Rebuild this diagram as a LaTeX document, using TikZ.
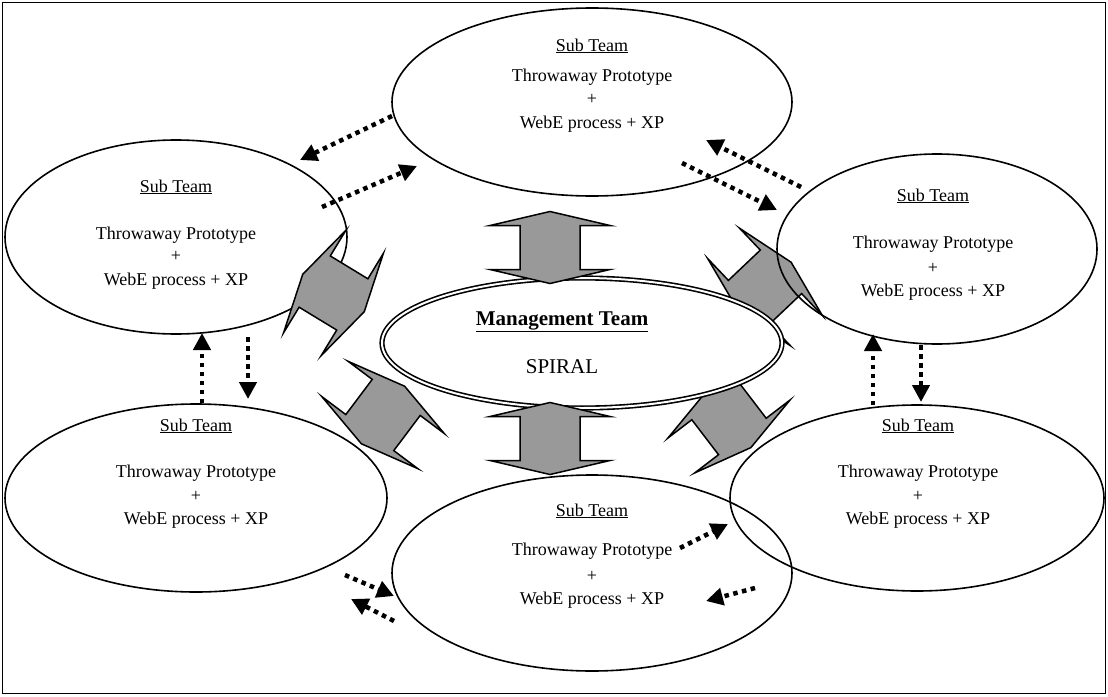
\documentclass[tikz,border=0pt]{standalone}
\usepackage{fontspec}
\setmainfont{Liberation Serif}
\usetikzlibrary{arrows.meta,shapes.geometric}
\definecolor{arrowgray}{RGB}{153,153,153}
\begin{document}
\begin{tikzpicture}[x=1pt,y=-1pt,
  team/.style={draw,ellipse,line width=1.6pt,inner sep=0pt},
  mgmt/.style={draw,ellipse,double,line width=1.6pt,double distance=2pt,fill=white,inner sep=0pt},
  blockarrow/.style={draw,fill=arrowgray,line width=1.5pt,line join=miter},
  dotarrow/.style={line width=4.5pt,dash pattern=on 4.5pt off 4.5pt,-{Triangle[length=17pt,width=17pt]}},
  txt/.style={anchor=base,inner sep=0pt,font=\fontsize{18}{21}\selectfont},
  mtxt/.style={anchor=base,inner sep=0pt,font=\fontsize{21}{24}\selectfont}
]
\useasboundingbox (0,0) rectangle (1108,696);
\draw[line width=1.6pt] (2.5,2.5) rectangle (1105.5,693.5);

\def\dblarrow{(36,0) -- (22,60) -- (22,30) -- (-22,30) -- (-22,60) -- (-36,0) -- (-22,-60) -- (-22,-30) -- (22,-30) -- (22,-60) -- cycle}

% block arrows drawn below the management ellipse
\draw[blockarrow,shift={(765,287)},rotate=43.5] \dblarrow;
\draw[blockarrow,shift={(729,419)},rotate=-52.6] \dblarrow;
\draw[blockarrow,shift={(383,415)},rotate=53.1] \dblarrow;

% management ellipse
\node[mgmt,minimum width=400pt,minimum height=130pt] (mg) at (582,343) {};
\node[mtxt] (mgt) at (562,325) {\textbf{\underline{Management Team}}};
\node[mtxt] (mgs) at (562,373) {SPIRAL};

% team ellipses
\node[team,minimum width=400pt,minimum height=188pt] (t) at (592,102) {};
\node[team,minimum width=342pt,minimum height=194pt] (tl) at (176,237) {};
\node[team,minimum width=320pt,minimum height=190pt] (tr) at (937,249) {};
\node[team,minimum width=382pt,minimum height=188pt] (bl) at (196,498) {};
\node[team,minimum width=400pt,minimum height=196pt] (bc) at (592,573) {};
\node[team,minimum width=374pt,minimum height=186pt] (br) at (917,498) {};

% texts
\foreach \n/\x/\a/\b/\c/\d in {t/592/45/75/98/122, tl/176/186/233/255/279, tr/933/195/242/267/290, bl/196/425/471/495/518, bc/592/510/549/575/598, br/918/425/471/495/518}{
  \node[txt] (\n-a) at (\x,\a+6) {\underline{Sub Team}};
  \node[txt] (\n-b) at (\x,\b+6) {Throwaway Prototype};
  \node[txt] (\n-c) at (\x,\c+6) {+};
  \node[txt] (\n-d) at (\x,\d+6) {WebE process + XP};
}

% block arrows drawn above
\draw[blockarrow,shift={(333.5,293)},rotate=-31.3] \dblarrow;
\draw[blockarrow,shift={(550,247.5)},rotate=90] \dblarrow;
\draw[blockarrow,shift={(550,438.5)},rotate=90] \dblarrow;

% dotted arrow end points
\coordinate (a1s) at (392,116); \coordinate (a1e) at (300,160);
\coordinate (a2s) at (322,207); \coordinate (a2e) at (417,166);
\coordinate (a3s) at (801,187); \coordinate (a3e) at (706,140);
\coordinate (a4s) at (682,163); \coordinate (a4e) at (777,210);
\coordinate (a5s) at (202,403); \coordinate (a5e) at (202,333);
\coordinate (a6s) at (248,337); \coordinate (a6e) at (248,399);
\coordinate (a7s) at (873,405); \coordinate (a7e) at (873,334);
\coordinate (a8s) at (921,345); \coordinate (a8e) at (921,402);
\coordinate (a9s) at (345,575); \coordinate (a9e) at (394,596);
\coordinate (a10s) at (394,621); \coordinate (a10e) at (351,599);
\coordinate (a11s) at (680,548); \coordinate (a11e) at (728,524);
\coordinate (a12s) at (755,588); \coordinate (a12e) at (706,601);
\foreach \i in {1,...,12}{ \draw[dotarrow] (a\i s) -- (a\i e); }
\end{tikzpicture}
\end{document}
